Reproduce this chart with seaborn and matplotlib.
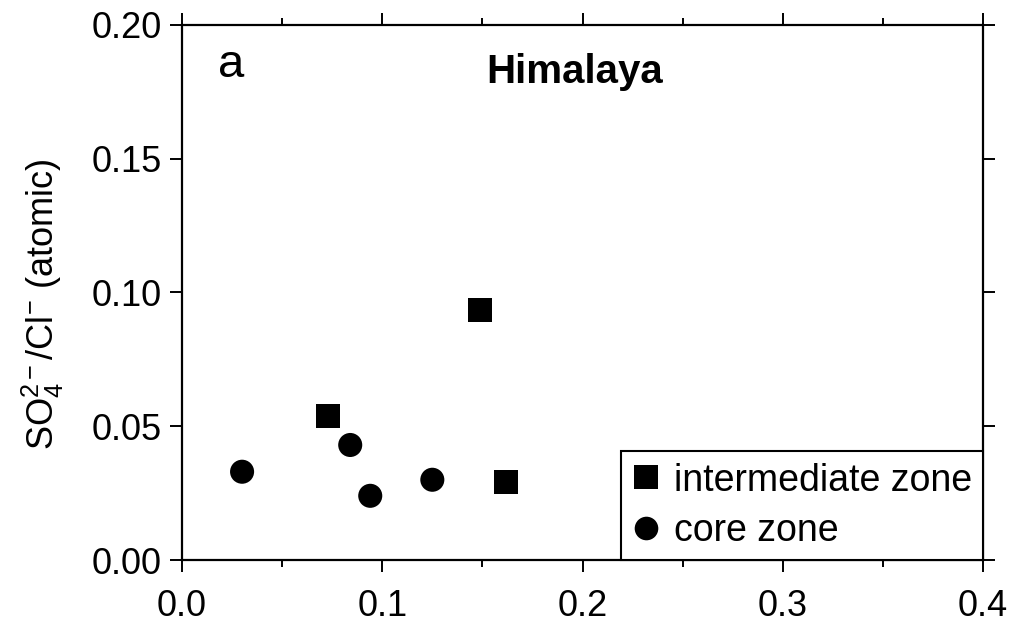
import matplotlib
matplotlib.use("Agg")
import matplotlib.pyplot as plt
from matplotlib.lines import Line2D
from matplotlib.ticker import MultipleLocator
import seaborn as sns
import pandas as pd

# ---- data ----
inter_x = [0.149, 0.073, 0.162]
inter_y = [0.0935, 0.054, 0.029]
core_x = [0.030, 0.084, 0.094, 0.125]
core_y = [0.033, 0.043, 0.024, 0.030]
zones = ["intermediate zone", "core zone"]
x_ticks = [0.0, 0.1, 0.2, 0.3, 0.4]
y_ticks = [0.00, 0.05, 0.10, 0.15, 0.20]

df = pd.DataFrame({
    "x": inter_x + core_x,
    "y": inter_y + core_y,
    "zone": [zones[0]] * len(inter_x) + [zones[1]] * len(core_x),
})

sns.set_theme(style="white")
plt.rcParams["font.family"] = ["Liberation Sans", "DejaVu Sans"]
plt.rcParams["mathtext.fontset"] = "custom"
plt.rcParams["mathtext.rm"] = "Liberation Sans"
plt.rcParams["mathtext.it"] = "Liberation Sans:italic"
plt.rcParams["mathtext.bf"] = "Liberation Sans:bold"
plt.rcParams["text.color"] = "black"
plt.rcParams["axes.labelcolor"] = "black"
plt.rcParams["xtick.color"] = "black"
plt.rcParams["ytick.color"] = "black"

fig = plt.figure(figsize=(10.10, 6.23), dpi=100)
ax = fig.add_axes([0.1802, 0.1011, 0.7931, 0.8588])

markers = {zones[0]: "s", zones[1]: "o"}
sns.scatterplot(data=df, x="x", y="y", style="zone", markers=markers,
                color="black", s=300, linewidth=0, legend=False, ax=ax)

ax.set_xlim(0, 0.4)
ax.set_ylim(0, 0.2)
ax.set_xticks(x_ticks)
ax.set_xticklabels([f"{v:.1f}" for v in x_ticks])
ax.set_yticks(y_ticks)
ax.set_yticklabels([f"{v:.2f}" for v in y_ticks])
ax.xaxis.set_minor_locator(MultipleLocator(0.05))

for sp in ax.spines.values():
    sp.set_color("black")
    sp.set_linewidth(1.6)

ax.tick_params(axis="both", which="major", direction="out", length=8.8, width=1.4,
               colors="black", labelcolor="black", labelsize=26)
ax.tick_params(axis="y", which="major", pad=6)
ax.tick_params(axis="x", which="major", pad=12)
ax.tick_params(axis="x", which="minor", direction="out", length=5, width=1.4,
               colors="black", top=True, bottom=True)
ax.tick_params(axis="x", which="major", top=True, bottom=True, labeltop=False)
ax.tick_params(axis="y", which="major", left=True, right=True, labelright=False)

ax.set_xlabel("")
ax.set_ylabel(r"SO$_4^{2-}$/Cl$^{-}$ (atomic)", fontsize=26, labelpad=18,
              color="black")
ax.yaxis.label.set_y(0.478)

ax.text(0.49, 0.8916, "Himalaya", transform=ax.transAxes, fontsize=29,
        fontweight="bold", ha="center", va="baseline", color="black")
ax.text(0.045, 0.903, "a", transform=ax.transAxes, fontsize=34,
        ha="left", va="baseline", color="black")

handles = [Line2D([], [], linestyle="none", marker=markers[z], color="black",
                  markersize=17, markeredgewidth=0) for z in zones]
leg = ax.legend(handles, zones, loc="lower right", borderaxespad=0,
                fontsize=27, frameon=True, fancybox=False, handlelength=0.7,
                handletextpad=0.4, borderpad=0.3, labelspacing=0.38)
leg.get_frame().set_edgecolor("black")
leg.get_frame().set_linewidth(1.5)
leg.get_frame().set_alpha(1)
for t in leg.get_texts():
    t.set_color("black")

fig.savefig("out.png", dpi=100)
